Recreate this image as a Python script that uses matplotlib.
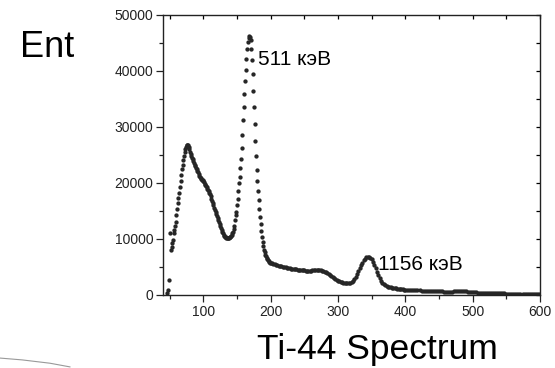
import matplotlib
matplotlib.use("Agg")
import matplotlib.pyplot as plt
from matplotlib.lines import Line2D
from matplotlib.ticker import MultipleLocator

plt.rcParams['font.family'] = ['Liberation Sans', 'DejaVu Sans']

# channel / counts
ch_a = [46, 48, 49, 51, 52, 53, 54, 55, 56, 57, 58, 59]
cnt_a = [300, 900, 2700, 11000, 8000, 8600, 9300, 9800, 11100, 11600, 12300, 13100]

ch_b = list(range(60, 201))
cnt_b = [14300, 15400, 16400, 17300, 18300, 19300, 20400, 21500, 22500, 23300,
         24100, 24900, 25600, 26100, 26400, 26700, 26800, 26700, 26400, 26000,
         25600, 25200, 24900, 24500, 24200, 23900, 23600, 23300, 23000, 22700,
         22500, 22200, 21900, 21600, 21300, 21100, 20900, 20700, 20600, 20500,
         20300, 20100, 19900, 19600, 19400, 19200, 19000, 18800, 18500, 18300,
         18000, 17600, 17200, 16800, 16400, 16000, 15600, 15200, 14800, 14500,
         14100, 13800, 13400, 13000, 12700, 12300, 12000, 11600, 11300, 11000,
         10800, 10600, 10400, 10300, 10200, 10100, 10100, 10100, 10200, 10300,
         10400, 10500, 10700, 11000, 11300, 11700, 12300, 13400, 14200, 14900,
         16000, 17100, 18600, 20000, 21100, 22600, 24200, 26200, 28600, 31200,
         33600, 35900, 38200, 40200, 42200, 44000, 45200, 45900, 46300, 46000,
         45500, 44000, 42000, 39500, 36500, 33500, 30500, 27500, 24800, 22400,
         20300, 18500, 16900, 15400, 14000, 12700, 11500, 10400, 9500, 8700,
         8100, 7600, 7200, 6900, 6600, 6400, 6200, 6000, 5900, 5800,
         5700]

ch_c = list(range(202, 401, 2))
cnt_c = [5650, 5550, 5450, 5380, 5300, 5230, 5170, 5100, 5040, 4980,
         4920, 4870, 4820, 4770, 4720, 4680, 4640, 4600, 4560, 4520,
         4480, 4450, 4420, 4400, 4380, 4370, 4360, 4350, 4350, 4360,
         4380, 4400, 4410, 4420, 4420, 4410, 4380, 4330, 4250, 4150,
         4020, 3870, 3700, 3520, 3340, 3160, 2990, 2830, 2680, 2550,
         2440, 2340, 2260, 2190, 2140, 2110, 2100, 2120, 2180, 2300,
         2500, 2800, 3200, 3700, 4250, 4800, 5300, 5800, 6200, 6500,
         6700, 6800, 6800, 6650, 6350, 5900, 5350, 4750, 4150, 3550,
         3000, 2550, 2200, 1950, 1750, 1600, 1480, 1400, 1340, 1290,
         1240, 1200, 1160, 1120, 1090, 1060, 1030, 1000, 980, 960]

ch_d = list(range(403, 601, 3))
cnt_d = [940, 920, 900, 880, 860, 840, 820, 800, 780, 760,
         740, 720, 700, 690, 670, 650, 640, 630, 620, 610,
         610, 610, 620, 640, 660, 680, 690, 690, 680, 650,
         610, 570, 530, 500, 470, 440, 420, 400, 380, 360,
         350, 340, 330, 320, 310, 300, 290, 280, 270, 260,
         250, 240, 230, 225, 220, 215, 210, 205, 200, 195,
         190, 185, 180, 175, 170, 165]

channels = ch_a + ch_b + ch_c + ch_d
counts = cnt_a + cnt_b + cnt_c + cnt_d

fig = plt.figure(figsize=(5.55, 3.68), dpi=100)
ax = fig.add_axes([0.2937, 0.1984, 0.6793, 0.7609])

ax.plot(channels, counts, 'o', ms=3.1, color='#262626', mec='none')

ax.set_xlim(40, 600)
ax.set_ylim(0, 50000)
ax.xaxis.set_major_locator(MultipleLocator(100))
ax.xaxis.set_minor_locator(MultipleLocator(50))
ax.yaxis.set_major_locator(MultipleLocator(10000))
ax.yaxis.set_minor_locator(MultipleLocator(5000))
ax.tick_params(which='both', direction='out', labelsize=10, colors='#222222', width=0.9)
ax.tick_params(which='major', length=5, pad=2)
ax.tick_params(which='minor', length=3)

# inward ticks on the top and right edges
top = ax.secondary_xaxis('top')
top.xaxis.set_major_locator(MultipleLocator(50))
top.tick_params(direction='in', length=3, labeltop=False, width=0.9)
right = ax.secondary_yaxis('right')
right.yaxis.set_major_locator(MultipleLocator(5000))
right.tick_params(direction='in', length=3, labelright=False, width=0.9)
for s in ax.spines.values():
    s.set_linewidth(1.0)
    s.set_color('#222222')
top.spines['top'].set_visible(False)
right.spines['right'].set_visible(False)

ax.text(181, 41100, '511 кэВ', fontsize=15)
ax.text(359, 4460, '1156 кэВ', fontsize=15)

fig.text(20 / 555, 1 - 57 / 368, 'Ent', fontsize=26)
fig.text(257 / 555, 1 - 359 / 368, 'Ti-44 Spectrum', fontsize=25.5)

# faint stray stroke in the lower left corner
fig.add_artist(Line2D([0.0, 0.04, 0.09, 0.126], [0.027, 0.022, 0.013, 0.003],
                      transform=fig.transFigure, color='#999999', lw=0.8))

fig.savefig('out.png', dpi=100)
